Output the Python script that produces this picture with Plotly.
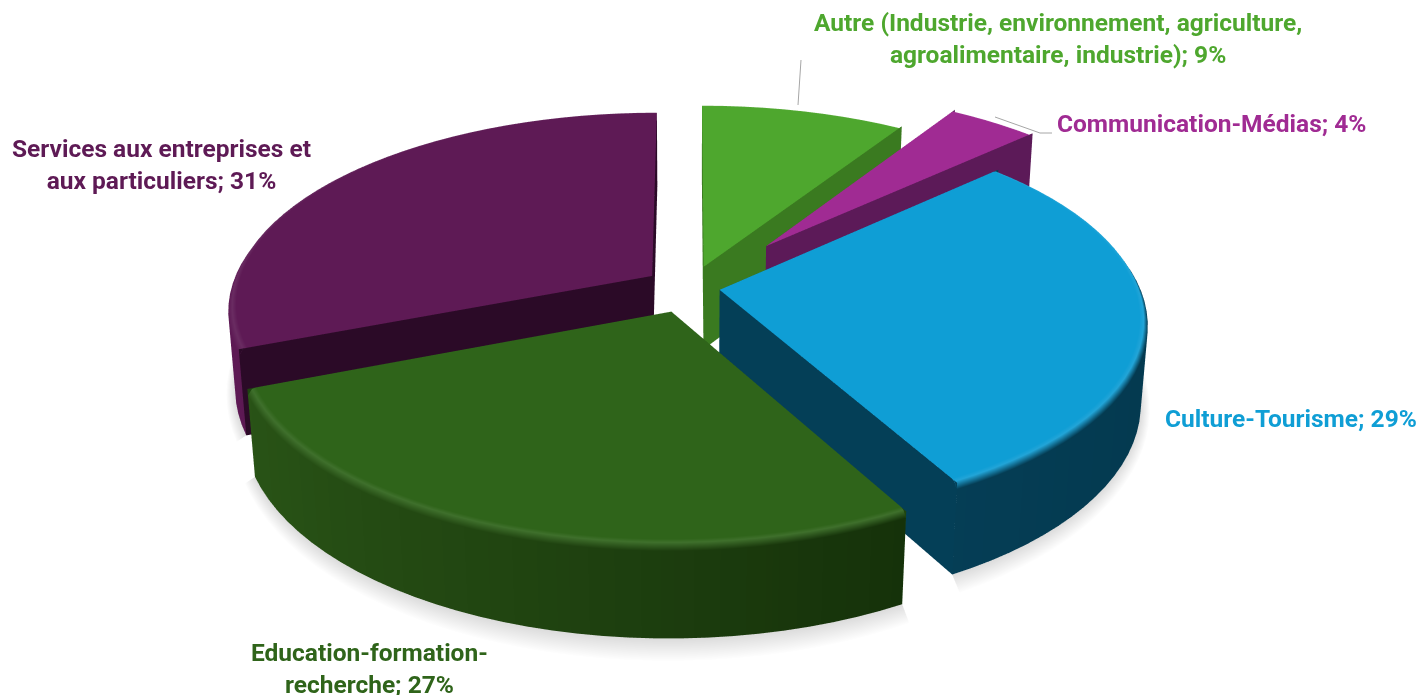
import numpy as np
import plotly.graph_objects as go

categories = ["Autre (Industrie, environnement, agriculture,<br>agroalimentaire, industrie)", "Communication-Médias", "Culture-Tourisme", "Education-formation-<br>recherche", "Services aux entreprises et<br>aux particuliers"]
values = [9, 4, 29, 27, 31]
explode = [0.115, 0.29, 0.07, 0.13, 0.11]
top_colors = ["#4EA72E", "#A02B93", "#0F9ED5", "#2F641A", "#5E1A55"]
inner_colors = ["#3A7A20", "#5C1A58", "#043F57", "#1E4510", "#2B0A27"]
wall_left = ["#3A7A20", "#5C1A58", "#0A4A66", "#2A5517", "#5E1A55"]
wall_right = ["#3A7A20", "#5C1A58", "#043A50", "#0F2606", "#3A0F35"]
label_x = [1058, 1211, 1291, 369, 161]
label_y = [39, 124, 418, 668, 165]
leader_lines = [((801, 60), (798, 105)), ((1052, 133), (1040, 133), (995, 117))]

HEIGHT = 0.225
ELEV = np.radians(27)
PERSP = 0.16
N = 60


def hex_rgb(c):
    return np.array([int(c[i:i + 2], 16) for i in (1, 3, 5)], float)


def mix(a, b, t):
    v = hex_rgb(a) * (1 - t) + hex_rgb(b) * t
    return "rgb(%d,%d,%d)" % tuple(v)


def warp(p):
    x, y, z = p
    ce, se = np.cos(ELEV), np.sin(ELEV)
    c = -y * ce + z * se
    v = y * se + z * ce
    s = 1 / (1 - PERSP * c)
    return (x * s, v * s * se - c * ce, v * s * ce + c * se)


def slice_mesh(start, end, i):
    mid = (start + end) / 2
    e = explode[i]
    ox, oy = e * np.sin(mid), e * np.cos(mid)
    th = np.linspace(start, end, max(6, int(N * (end - start) / 3)))
    verts, cols, faces = [], [], []
    highlight = mix(top_colors[i], "#FFFFFF", 0.08)

    def add(p, c):
        verts.append(warp(p))
        cols.append(c)
        return len(verts) - 1

    def on_arc(t, r, z):
        return (ox + r * np.sin(t), oy + r * np.cos(t), z)

    def wall_col(t):
        return mix(wall_right[i], wall_left[i], 1 - (np.sin(t) + 1) / 2)

    # soft floor shadow
    zf = -HEIGHT
    s_in = [add(on_arc(t, 1.0, zf), "#DCDCDC") for t in th]
    s_out = [add((ox + 1.02 * np.sin(t), oy + 1.08 * np.cos(t), zf), "#FFFFFF") for t in th]
    for k in range(len(th) - 1):
        faces += [(s_in[k], s_in[k + 1], s_out[k]), (s_in[k + 1], s_out[k + 1], s_out[k])]
    # top
    c0 = add((ox, oy, 0), top_colors[i])
    ring = [add(on_arc(t, 0.98, 0), top_colors[i]) for t in th]
    for a, b in zip(ring[:-1], ring[1:]):
        faces.append((c0, a, b))
    # bevel rim
    ring2 = [add(on_arc(t, 0.99, -0.002), highlight) for t in th]
    rim = [add(on_arc(t, 1.0, -0.016), wall_col(t)) for t in th]
    for k in range(len(th) - 1):
        faces += [(ring[k], ring[k + 1], ring2[k]), (ring[k + 1], ring2[k + 1], ring2[k])]
        faces += [(ring2[k], ring2[k + 1], rim[k]), (ring2[k + 1], rim[k + 1], rim[k])]
    # outer wall
    w_bot = [add(on_arc(t, 1.0, -HEIGHT), wall_col(t)) for t in th]
    for k in range(len(th) - 1):
        faces += [(rim[k], rim[k + 1], w_bot[k]), (rim[k + 1], w_bot[k + 1], w_bot[k])]
    # inner walls
    for t in (start, end):
        a = add((ox, oy, 0), inner_colors[i])
        b = add(on_arc(t, 1.0, 0), inner_colors[i])
        c = add(on_arc(t, 1.0, -HEIGHT), inner_colors[i])
        d = add((ox, oy, -HEIGHT), inner_colors[i])
        faces += [(a, b, c), (a, c, d)]
    v = np.array(verts)
    f = np.array(faces)
    return go.Mesh3d(x=v[:, 0], y=v[:, 1], z=v[:, 2], i=f[:, 0], j=f[:, 1], k=f[:, 2],
                     vertexcolor=cols, flatshading=True, hoverinfo="skip",
                     lighting=dict(ambient=1, diffuse=0, specular=0, fresnel=0), showscale=False)


fig = go.Figure()
total = sum(values)
angle = 0.0
for i, val in enumerate(values):
    end = angle + 2 * np.pi * val / total
    fig.add_trace(slice_mesh(angle, end, i))
    angle = end

axis = dict(visible=False, showgrid=False, zeroline=False, showbackground=False)
eye_d = 1.3
zoom = 4.87
fig.update_layout(
    width=1428, height=695, margin=dict(l=0, r=0, t=0, b=0),
    paper_bgcolor="white", showlegend=False,
    scene=dict(xaxis=dict(axis, range=[-1.944, 2.056]), yaxis=dict(axis, range=[-2.064, 1.936]), zaxis=dict(axis, range=[-2.126, 1.874]),
               aspectmode="manual", aspectratio=dict(x=zoom, y=zoom, z=zoom),
               domain=dict(x=[0, 1], y=[0, 1]),
               camera=dict(eye=dict(x=0, y=-eye_d * np.cos(ELEV), z=eye_d * np.sin(ELEV)),
                           center=dict(x=0, y=0, z=0), up=dict(x=0, y=0, z=1),
                           projection=dict(type="orthographic"))),
)
for i, cat in enumerate(categories):
    fig.add_annotation(x=label_x[i] / 1428, y=1 - label_y[i] / 695, xref="paper", yref="paper",
                       xanchor="center", yanchor="middle",
                       text="<b>%s; %d%%</b>" % (cat, values[i]), showarrow=False, align="center",
                       font=dict(family="Roboto", size=24.5, color=top_colors[i]))
for pts in leader_lines:
    for (x0, y0), (x1, y1) in zip(pts[:-1], pts[1:]):
        fig.add_shape(type="line", xref="paper", yref="paper", x0=x0 / 1428, x1=x1 / 1428, y0=1 - y0 / 695, y1=1 - y1 / 695,
                      line=dict(color="#A6A6A6", width=1))
fig.write_html("out.html", post_script="document.body.style.margin='0';", config=dict(displayModeBar=False))
